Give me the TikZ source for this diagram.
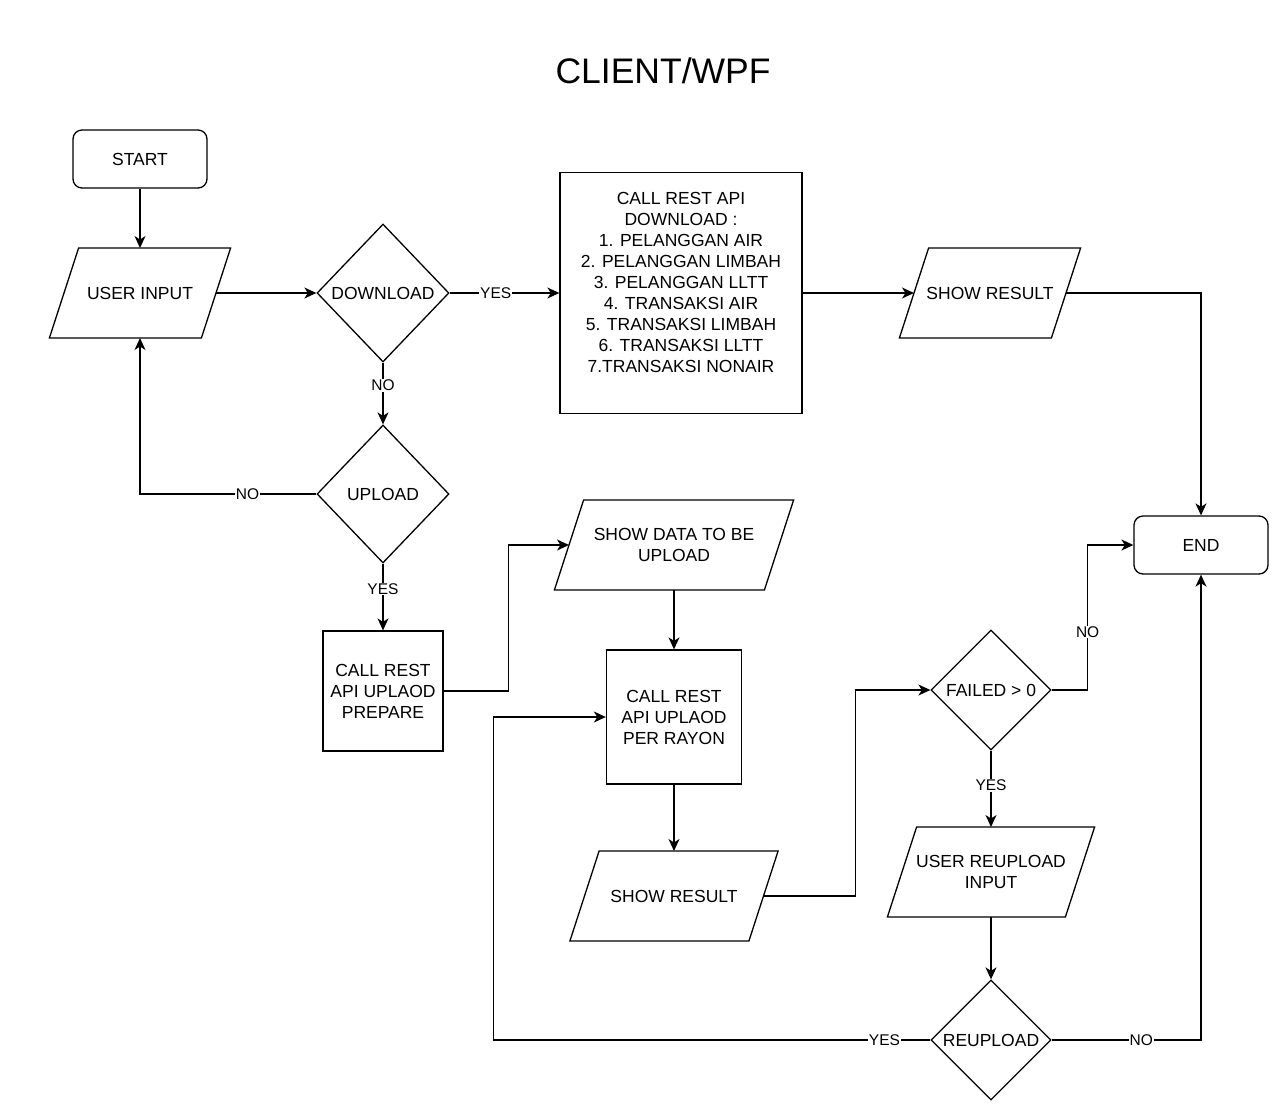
\documentclass[tikz,border=0pt]{standalone}
\usepackage{fontspec}
\setmainfont{Liberation Sans}
\usetikzlibrary{arrows.meta,calc,shapes.geometric}

% outline of an input/output box: a parallelogram leaning right,
% whose slanted sides pass through the node's west and east anchors
\newcommand\iooutline[1]{%
  \draw[base] ($(#1.north west)+(14.6,0)$) -- ($(#1.north east)+(14.6,0)$)
    -- ($(#1.south east)-(14.6,0)$) -- ($(#1.south west)-(14.6,0)$) -- cycle;}

\begin{document}
\begin{tikzpicture}[x=1pt,y=-1pt,
  every node/.style={font=\fontsize{17.5}{21}\selectfont, align=center},
  base/.style={draw, line width=1.3pt, line join=miter},
  term/.style={base, rectangle, rounded corners=9pt, minimum width=134pt, minimum height=58pt},
  proc/.style={base, rectangle, inner sep=2pt},
  io/.style={rectangle, minimum height=90pt, inner sep=0pt, outer sep=0pt},
  dec/.style={base, diamond, inner sep=0pt},
  arr/.style={line width=1.3pt, -{Stealth[length=12pt,width=11pt,inset=3.5pt]}},
  lbl/.style={font=\fontsize{15.5}{18}\selectfont, fill=white, inner sep=1pt},
]
\fill[white] (0,0) rectangle (1280,1112);
\useasboundingbox (0,0) rectangle (1280,1112);

% title
\node[font=\fontsize{35.5}{42}\selectfont] (title) at (663,71) {CLIENT/WPF};

% shapes
\node[term] (start) at (140,159) {START};
\node[io, minimum width=152pt] (ui) at (140,293) {USER INPUT};
\node[dec, minimum width=132pt, minimum height=138pt] (dld) at (383,293) {DOWNLOAD};
\node[proc, minimum width=242pt, minimum height=241pt] (dl) at (681,293)
  {CALL REST API\\DOWNLOAD :\\1. PELANGGAN AIR\\2. PELANGGAN LIMBAH\\3. PELANGGAN LLTT\\4. TRANSAKSI AIR\\5. TRANSAKSI LIMBAH\\6. TRANSAKSI LLTT\\7.TRANSAKSI NONAIR\\ \mbox{}};
\node[io, minimum width=152pt] (sr1) at (990,293) {SHOW RESULT};
\node[term] (end) at (1201,545) {END};
\node[dec, minimum width=132pt, minimum height=138pt] (upl) at (383,494) {UPLOAD};
\node[proc, minimum width=120pt, minimum height=120pt] (prep) at (383,691) {CALL REST\\API UPLAOD\\PREPARE};
\node[io, minimum width=210pt] (sd) at (674,545) {SHOW DATA TO BE\\UPLOAD};
\node[proc, minimum width=135pt, minimum height=134pt] (pr) at (674,717) {CALL REST\\API UPLAOD\\PER RAYON};
\node[io, minimum width=179pt] (sr2) at (674,896) {SHOW RESULT};
\node[dec, minimum width=120pt, minimum height=120pt] (fail) at (991,690) {FAILED > 0};
\node[io, minimum width=178pt] (rui) at (991,872) {USER REUPLOAD\\INPUT};
\node[dec, minimum width=120pt, minimum height=120pt] (reup) at (991,1040) {REUPLOAD};

\iooutline{ui}
\iooutline{sr1}
\iooutline{sd}
\iooutline{sr2}
\iooutline{rui}

% connectors
\draw[arr] (start) -- (ui);
\draw[arr] (ui.east) -- (dld.west);
\draw[arr] (dld.east) -- node[lbl, pos=0.42]{YES} (dl.west);
\draw[arr] (dl.east) -- (sr1.west);
\draw[arr] (sr1.east) -| (end.north);
\draw[arr] (dld.south) -- node[lbl, pos=0.37]{NO} (upl.north);
\draw[arr] (upl.west) -- node[lbl, pos=0.39]{NO} (upl.west -| ui.south) -- (ui.south);
\draw[arr] (upl.south) -- node[lbl, pos=0.38]{YES} (prep.north);
\draw[arr] (prep.east) -- ++(65,0) |- (sd.west);
\draw[arr] (sd.south) -- (pr.north);
\draw[arr] (pr.south) -- (sr2.north);
\draw[arr] (sr2.east) -- ++(92,0) |- (fail.west);
\draw[arr] (fail.east) -- ++(36,0) |- node[lbl, pos=0.2]{NO} (end.west);
\draw[arr] (fail.south) -- node[lbl, pos=0.45]{YES} (rui.north);
\draw[arr] (rui.south) -- (reup.north);
\draw[arr] (reup.west) -- node[lbl, pos=0.105]{YES} ++(-437,0) |- (pr.west);
\draw[arr] (reup.east) -- node[lbl, pos=0.6]{NO} (reup.east -| end.south) -- (end.south);
\end{tikzpicture}
\end{document}
